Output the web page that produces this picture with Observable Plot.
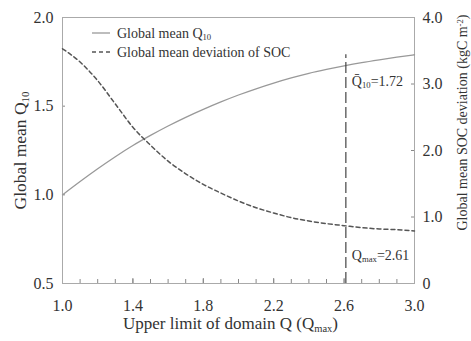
<!DOCTYPE html>
<html><head><meta charset="utf-8">
<script src="https://cdn.jsdelivr.net/npm/d3@7"></script>
<script src="https://cdn.jsdelivr.net/npm/@observablehq/plot@0.6"></script>
<style>
body{margin:0;background:#fff}
</style>
</head><body><div id="chart"></div>
<script>
// Upper limit of domain Q (Qmax)
const qmax = [1.0,1.1,1.2,1.3,1.4,1.5,1.6,1.7,1.8,1.9,2.0,2.1,2.2,2.3,2.4,2.5,2.6,2.7,2.8,2.9,3.0];
// Global mean Q10 (left axis)
const q10  = [1.00,1.075,1.147,1.215,1.278,1.335,1.388,1.437,1.482,1.524,1.563,1.598,1.630,1.659,1.685,1.707,1.727,1.745,1.761,1.776,1.790];
// Global mean SOC deviation, kgC m-2 (right axis)
const soc  = [3.53,3.33,3.05,2.70,2.35,2.08,1.84,1.65,1.49,1.36,1.24,1.14,1.06,0.99,0.94,0.90,0.87,0.84,0.82,0.81,0.79];

const xTicks = [1.0,1.4,1.8,2.2,2.6,3.0];
const xMinor = [1.1,1.2,1.3,1.4,1.5,1.6,1.7,1.8,1.9,2.0,2.1,2.2,2.3,2.4,2.5,2.6,2.7,2.8,2.9];
const leftTicks = [0.5,1.0,1.5,2.0];
const rightTicks = [0,1,2,3,4];
const rightTickLabels = ["0","1.0","2.0","3.0","4.0"];

const qmaxLine = [2.61];
const qmaxLineTop = [1.79];
const annX = [2.61, 2.61];
const annY = [1.64, 0.66];
const annText = ["Q\u0304_{10}=1.72", "Q_{max}=2.61"];

const legendLabels = ["Global mean Q_{10}", "Global mean deviation of SOC"];
const xTitle = "Upper limit of domain Q (Q_{max})";
const yLeftTitle = "Global mean Q_{10}";
const yRightTitle = "Global mean SOC deviation (kgC m^{-2})";

// right axis (0..4) mapped onto left axis (0.5..2.0)
const toLeft = s => 0.5 + s * 1.5 / 4;

const q10Data = qmax.map((x, i) => ({x, y: q10[i]}));
const socData = qmax.map((x, i) => ({x, y: toLeft(soc[i])}));

const FONT = "Liberation Serif";
const ink = "#333";
const plot = Plot.plot({
  width: 471, height: 341,
  marginLeft: 62, marginRight: 57, marginTop: 17, marginBottom: 58,
  x: {domain: [1, 3]},
  y: {domain: [0.5, 2]},
  style: {fontFamily: FONT, fontSize: "16px", color: ink, background: "#fff"},
  marks: [
    Plot.axisX(xMinor, {tickSize: -4, text: null, label: null, stroke: "#888"}),
    Plot.axisX(xTicks, {tickSize: -5, text: null, label: null, stroke: "#888"}),
    Plot.axisX(xTicks, {tickSize: 0, tickPadding: 16, tickFormat: d => d.toFixed(1), label: null, fill: ink, fontSize: 16}),
    Plot.axisY(leftTicks, {anchor: "left", tickSize: -3, text: null, label: null, stroke: "#888"}),
    Plot.axisY(leftTicks, {anchor: "left", tickSize: 0, tickPadding: 9, tickFormat: d => d.toFixed(1), label: null, fill: ink, fontSize: 16}),
    Plot.axisY(rightTicks.map(toLeft), {anchor: "right", tickSize: -4, text: null, label: null, stroke: "#888"}),
    Plot.axisY(rightTicks.map(toLeft), {anchor: "right", tickSize: 0, tickPadding: 8, tickFormat: (d, i) => rightTickLabels[i], label: null, fill: ink, fontSize: 16}),
    Plot.frame({stroke: "#aaa"}),
    Plot.line(q10Data, {x: "x", y: "y", stroke: "#999", strokeWidth: 1.3, curve: "monotone-x"}),
    Plot.line(socData, {x: "x", y: "y", stroke: "#555", strokeWidth: 1.5, strokeDasharray: "4,3", curve: "monotone-x"}),
    Plot.ruleX(qmaxLine, {x: d => d, y1: 0.5, y2: (d, i) => qmaxLineTop[i], stroke: "#444", strokeWidth: 1.2, strokeDasharray: "11,4"}),
    Plot.text(annText, {x: (d, i) => annX[i], y: (d, i) => annY[i], text: d => d, textAnchor: "start", dx: 6, fontSize: 14, fill: ink}),
    Plot.text([xTitle], {frameAnchor: "bottom", dx: -8, dy: 45, textAnchor: "middle", text: d => d, fontSize: 17, fill: ink}),
    Plot.text([yLeftTitle], {frameAnchor: "left", dx: -42, textAnchor: "middle", rotate: -90, text: d => d, fontSize: 17.5, fill: ink}),
    Plot.text([yRightTitle], {frameAnchor: "right", dx: 48, dy: -28, textAnchor: "middle", rotate: -90, text: d => d, fontSize: 14, fill: ink})
  ]
});

const svgns = "http://www.w3.org/2000/svg";
const svg = d3.select(plot);
// legend inside the plot frame
const lg = svg.append("g").attr("font-size", 14).attr("fill", ink).attr("text-anchor", "start");
legendLabels.forEach((lab, i) => {
  const y = 17 + 16 + i * 19;
  lg.append("line").attr("x1", 92).attr("x2", 110).attr("y1", y).attr("y2", y)
    .attr("stroke", i === 0 ? "#999" : "#555").attr("stroke-width", i === 0 ? 1.3 : 1.5)
    .attr("stroke-dasharray", i === 0 ? null : "4,3");
  lg.append("text").attr("x", 117).attr("y", y).attr("dy", "0.35em").text(lab);
});

// turn _{..} and ^{..} into sub/superscripts
function richify(el) {
  const s = el.textContent;
  if (!/[_^]\{/.test(s)) return;
  el.textContent = "";
  const re = /([_^])\{([^}]*)\}/g;
  let last = 0, m;
  const add = (t, type) => {
    const ts = document.createElementNS(svgns, "tspan");
    ts.textContent = t;
    if (type) {
      ts.setAttribute("font-size", "62%");
      ts.setAttribute("baseline-shift", type === "_" ? "-25%" : "40%");
    }
    el.appendChild(ts);
  };
  while ((m = re.exec(s))) {
    if (m.index > last) add(s.slice(last, m.index), null);
    add(m[2], m[1]);
    last = re.lastIndex;
  }
  if (last < s.length) add(s.slice(last), null);
}
svg.selectAll("text").each(function() { richify(this); }).style("font-family", FONT);

document.getElementById("chart").appendChild(plot);
</script>
</body></html>
